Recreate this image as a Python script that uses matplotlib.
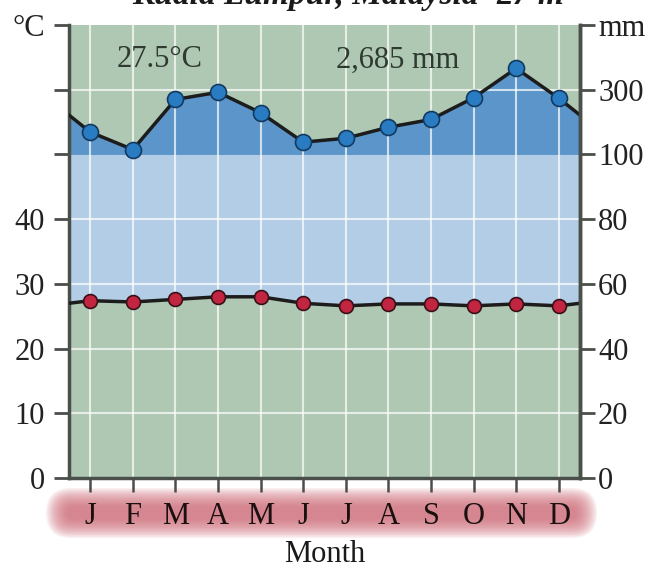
"""
Climate diagram for Kuala Lumpur, Malaysia (Walter-Lieth style)
Temperature on the left axis, precipitation on the right axis
(0-100 mm linear at 2 mm per degree, compressed above 100 mm)
"""

import matplotlib.pyplot as plt
import numpy as np
from matplotlib.patches import FancyBboxPatch

# Monthly data
months = ['J', 'F', 'M', 'A', 'M', 'J', 'J', 'A', 'S', 'O', 'N', 'D']
temp_c = [27.4, 27.2, 27.6, 28.0, 28.0, 27.0, 26.6, 26.9, 26.9, 26.6, 26.9, 26.6]
precip_mm = [169, 115, 270, 292, 229, 138, 150, 184, 208, 275, 366, 274]

left_ticks = [0, 10, 20, 30, 40, 50, 60, 70]
left_labels = ['0', '10', '20', '30', '40', '', '', '°C']
right_labels = ['0', '20', '40', '60', '80', '100', '300', 'mm']

mean_temp_label = '27.5°C'
total_precip_label = '2,685 mm'

# Colours
green = '#afc8b3'
light_blue = '#b4cde6'
dark_blue = '#5c95c9'
axis_col = '#4a4f4a'
line_col = '#1c1c1c'
temp_marker = '#c2253f'
precip_marker = '#2a7cc2'


def precip_to_plot(mm):
    """Map mm to the temperature-equivalent plot scale"""
    mm = np.asarray(mm, dtype=float)
    return np.where(mm <= 100, mm / 2.0, 50 + (mm - 100) / 20.0)


plt.rcParams['font.family'] = ['Liberation Serif', 'DejaVu Serif']

x_mid = np.arange(12) + 0.5
t = np.array(temp_c)
p = precip_to_plot(precip_mm)

# Wrap around the year so lines reach both edges
t_edge = (t[0] + t[-1]) / 2
p_edge = (p[0] + p[-1]) / 2
x_ext = np.concatenate([[0], x_mid, [12]])
t_ext = np.concatenate([[t_edge], t, [t_edge]])
p_ext = np.concatenate([[p_edge], p, [p_edge]])

fig = plt.figure(figsize=(6.64, 5.82), dpi=100)
ax = fig.add_axes([69 / 664, 1 - 478 / 582, 511 / 664, 453 / 582])
ax.set_facecolor(green)

# Fills
ax.fill_between(x_ext, t_ext, np.minimum(p_ext, 50), color=light_blue, lw=0, zorder=1)
ax.fill_between(x_ext, 50, np.maximum(p_ext, 50), color=dark_blue, lw=0, zorder=1)

# White grid
for yv in [10, 20, 30, 40, 60]:
    ax.axhline(yv, color='white', lw=1.5, alpha=0.7, zorder=2)
for xv in x_mid:
    ax.axvline(xv, color='white', lw=1.5, alpha=0.7, zorder=2)

# Lines and markers
ax.plot(x_ext, t_ext, color=line_col, lw=2.5, zorder=3)
ax.plot(x_mid, t, 'o', ms=10, mfc=temp_marker, mec='#3a1018', mew=1.2, zorder=4)
ax.plot(x_ext, p_ext, color=line_col, lw=2.5, zorder=3)
ax.plot(x_mid, p, 'o', ms=11.5, mfc=precip_marker, mec='#123a60', mew=1.2, zorder=4)

ax.set_xlim(0, 12)
ax.set_ylim(0, 70)

# Axes and ticks
ax.spines['top'].set_visible(False)
for s in ['left', 'right', 'bottom']:
    ax.spines[s].set_color(axis_col)
    ax.spines[s].set_linewidth(2.5)

ax.set_yticks(left_ticks)
ax.set_yticklabels(left_labels)
ax.tick_params(axis='y', direction='out', length=11, width=2, color=axis_col,
               labelsize=22, labelcolor='#222222', pad=6.5)

ax2 = ax.twinx()
ax2.set_ylim(0, 70)
ax2.set_yticks(left_ticks)
ax2.set_yticklabels(right_labels)
ax2.tick_params(axis='y', direction='out', length=11, width=2, color=axis_col,
                labelsize=22, labelcolor='#222222', pad=2)
for s in ['top', 'left', 'bottom']:
    ax2.spines[s].set_visible(False)
ax2.spines['right'].set_color(axis_col)
ax2.spines['right'].set_linewidth(2.5)

ax.set_xticks(x_mid)
ax.set_xticklabels(months)
ax.tick_params(axis='x', direction='out', length=10, width=1.8, color=axis_col,
               labelsize=22, labelcolor='#1a1010', pad=7)
ax.set_xlabel('Month', fontsize=22, color='#1a1a1a', labelpad=7)

# Soft red rounded band behind the month labels (stacked translucent layers)
n_layers = 14
for i in range(n_layers):
    inset = i * 1.6
    x0, x1 = 46 + inset, 597 - inset
    y0, y1 = 488 + inset * 0.9, 538 - inset * 0.9
    h = (y1 - y0) / 100
    band = FancyBboxPatch((x0 / 100, (582 - y1) / 100), (x1 - x0) / 100, h,
                          boxstyle=f'round,pad=0,rounding_size={h / 2:.4f}',
                          transform=fig.dpi_scale_trans, facecolor='#d06e7a',
                          edgecolor='none', alpha=0.11, zorder=-1)
    fig.patches.append(band)

# Summary labels
ax.text(2.12, 64.6, mean_temp_label, fontsize=22, color='#2f3a30',
        ha='center', va='center', zorder=5)
ax.text(7.72, 64.6, total_precip_label, fontsize=22, color='#2f3a30',
        ha='center', va='center', zorder=5)

# Title clipped at the top edge, as in the source
fig.text(305 / 664, 1 - 4 / 582, 'Kuala Lumpur, Malaysia', fontsize=24,
         fontweight='bold', style='italic', ha='center', va='baseline', color='#1a1a1a')
fig.text(530 / 664, 1 - 4 / 582, '27 m', fontsize=24, fontweight='bold',
         style='italic', ha='center', va='baseline', color='#1a1a1a')

fig.savefig('out.png', dpi=100)
